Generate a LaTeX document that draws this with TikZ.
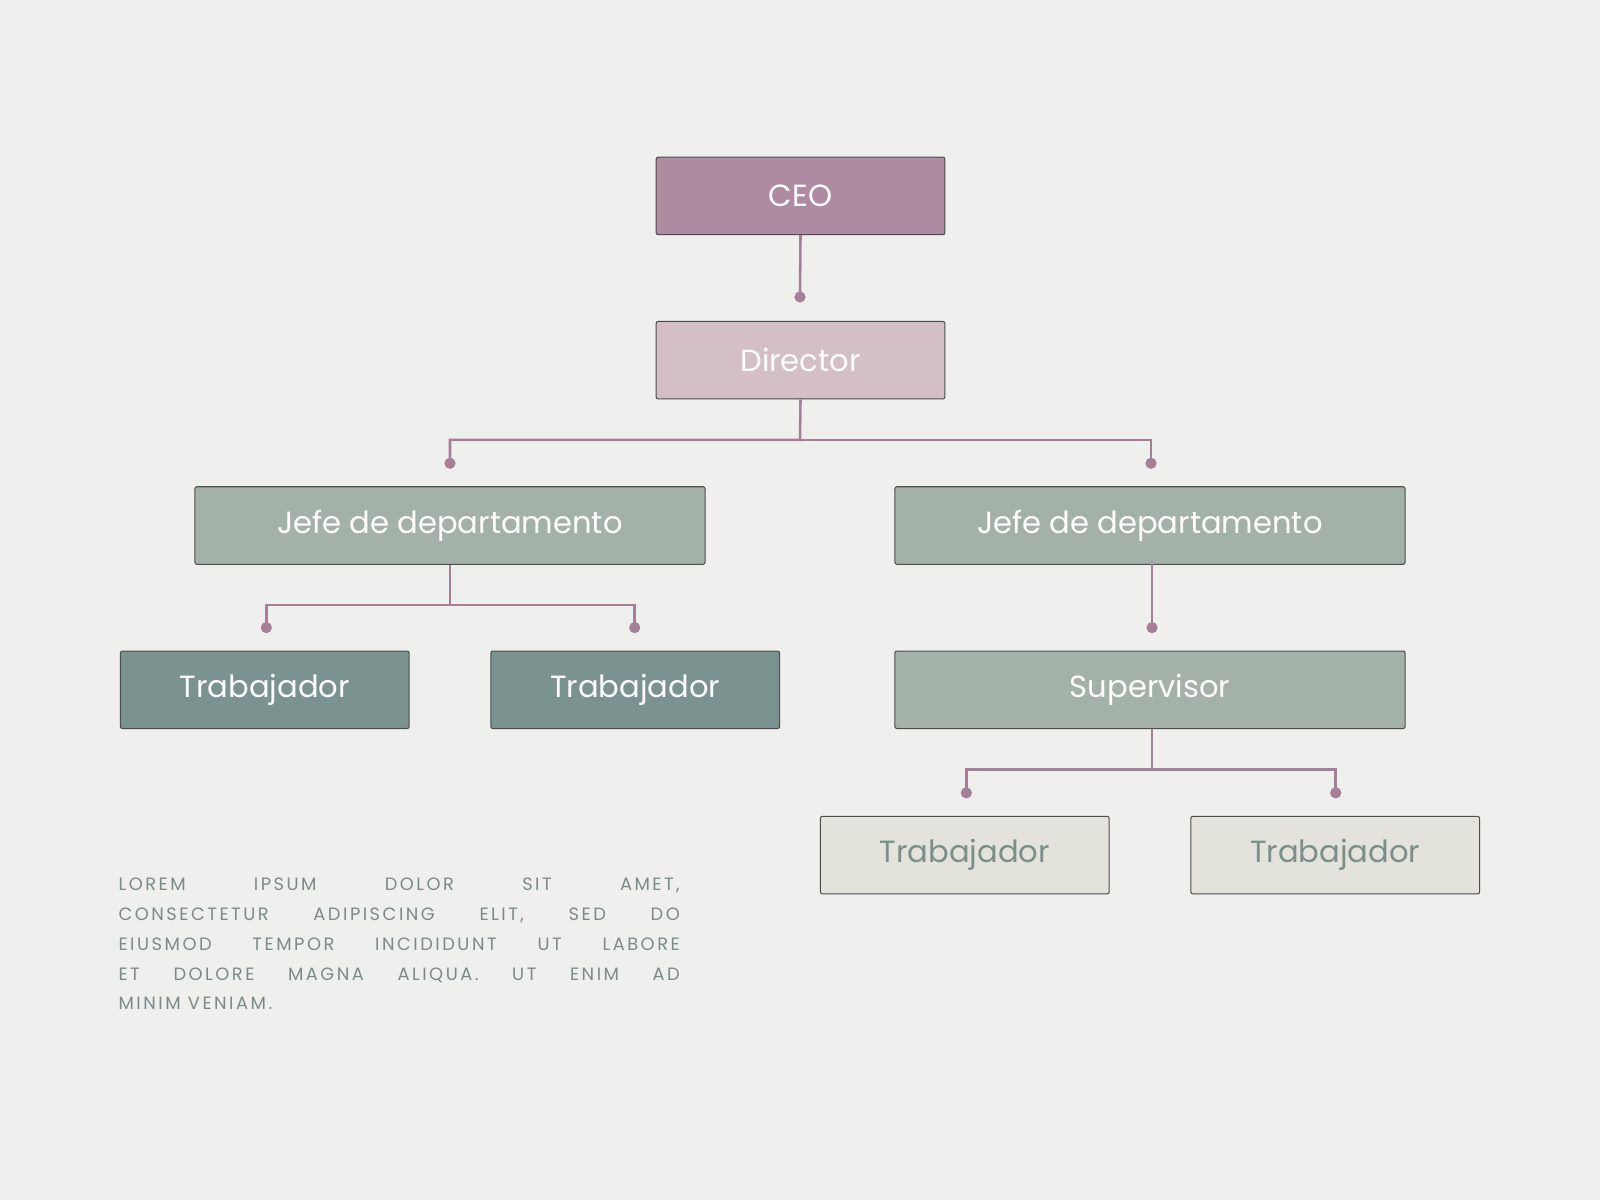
\documentclass[tikz,border=0pt]{standalone}
\usepackage{fontspec}
\setmainfont{Poppins}
\newfontfamily\lorem[LetterSpace=14]{Poppins}
\definecolor{bg}{HTML}{EFEFEE}
\definecolor{ceo}{HTML}{AE8BA1}
\definecolor{dir}{HTML}{D5BFC7}
\definecolor{jefe}{HTML}{A4B1A9}
\definecolor{trab}{HTML}{7A9391}
\definecolor{light}{HTML}{E3E3DC}
\definecolor{lighttxt}{HTML}{7A8F89}
\definecolor{conn}{HTML}{A67E98}
\definecolor{loremc}{HTML}{7E8A8A}
\newcommand{\lline}[1]{\hbox to 550pt{#1}\\}
\begin{document}
\begin{tikzpicture}[x=1pt,y=-1pt,
 box/.style={draw=black!70,line width=1pt,rounded corners=2pt,minimum height=76pt,text=white,font=\fontsize{30}{31}\selectfont,inner sep=0pt},
 c/.style={conn,line width=2.5pt},
 dot/.style={circle,fill=conn,inner sep=0pt,minimum size=11pt}]
\fill[bg] (0,0) rectangle (1568,1176);
\useasboundingbox (0,0) rectangle (1568,1176);
\node[box,fill=ceo,minimum width=283pt] (ceo) at (784.5,192) {CEO};
\node[box,fill=dir,minimum width=283pt] (dir) at (784.5,353) {Director};
\node[box,fill=jefe,minimum width=500pt] (jl) at (441,515) {Jefe de departamento};
\node[box,fill=jefe,minimum width=500pt] (jr) at (1127,515) {Jefe de departamento};
\node[box,fill=trab,minimum width=283pt] (t1) at (259.5,676) {Trabajador};
\node[box,fill=trab,minimum width=283pt] (t2) at (622.5,676) {Trabajador};
\node[box,fill=jefe,minimum width=500pt] (sup) at (1127,676) {Supervisor};
\node[box,fill=light,text=lighttxt,minimum width=283pt] (t3) at (945.5,838) {Trabajador};
\node[box,fill=light,text=lighttxt,minimum width=283pt] (t4) at (1308.5,838) {Trabajador};
\coordinate (d0) at (784,291);
\coordinate (d1) at (441,454); \coordinate (d2) at (1128,454);
\coordinate (d3) at (261,615); \coordinate (d4) at (622,615);
\coordinate (d5) at (1129,615);
\coordinate (d6) at (947,777); \coordinate (d7) at (1309,777);
\draw[c] (ceo.south) -- (d0);
\draw[c] (dir.south) -- (784,431) -| (d1); \draw[c] (784,431) -| (d2);
\draw[c] (jl.south) -- (441,593) -| (d3); \draw[c] (441,593) -| (d4);
\draw[c] (1129,553) -- (d5);
\draw[c] (1129,714) -- (1129,754) -| (d6); \draw[c] (1129,754) -| (d7);
\foreach \d in {d0,d1,d2,d3,d4,d5,d6,d7} \node[dot] at (\d) {};
\node[anchor=north west,inner sep=0pt,align=left,text=loremc,font=\lorem\fontsize{17.5}{29.3}\selectfont] (lor) at (116,860) {%
\lline{LOREM\hfill IPSUM\hfill DOLOR\hfill SIT\hfill AMET,}
\lline{CONSECTETUR\hfill ADIPISCING\hfill ELIT,\hfill SED\hfill DO}
\lline{EIUSMOD\hfill TEMPOR\hfill INCIDIDUNT\hfill UT\hfill LABORE}
\lline{ET\hfill DOLORE\hfill MAGNA\hfill ALIQUA.\hfill UT\hfill ENIM\hfill AD}
MINIM\ VENIAM.};
\end{tikzpicture}
\end{document}
